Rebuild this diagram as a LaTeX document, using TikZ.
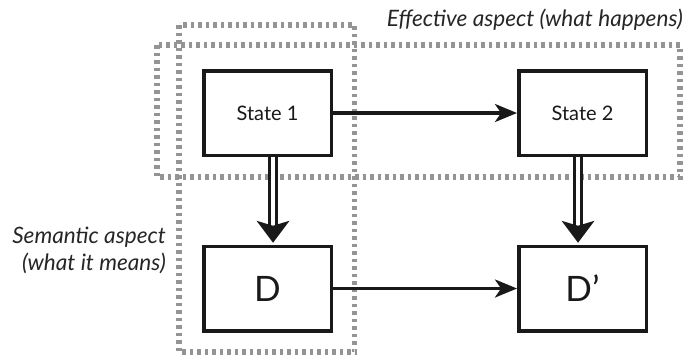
\documentclass[tikz,border=0pt]{standalone}
\usepackage{fontspec}
\setmainfont{Lato}
\usetikzlibrary{arrows.meta}
\tikzset{
  box/.style={draw=black!90, line width=3.5pt, fill=white, minimum width=127.5pt, minimum height=84.5pt, inner sep=0pt},
  aspect/.style={draw=black!42, line width=5.5pt, dash pattern=on 3.5pt off 4pt},
  flow/.style={draw=black!90, line width=3.2pt, -{Stealth[length=22pt,width=18pt,inset=6pt]}},
  dbl/.style={draw=black!90, line width=3.2pt, double=white, double distance=3.5pt, shorten >=14pt},
  head/.style={fill=black!90},
  lbl/.style={font=\itshape\fontsize{22.6}{27}\selectfont, text=black!85, inner sep=0pt},
  slbl/.style={font=\fontsize{20}{22}\selectfont, text=black!90},
  dlbl/.style={font=\fontsize{35}{37}\selectfont, text=black!90}
}
\begin{document}
\begin{tikzpicture}[x=1pt,y=-1pt]
\useasboundingbox (0,0) rectangle (690,356);
% aspect frames
\draw[aspect] (157,45) rectangle (680,177);
\draw[aspect] (179,25) rectangle (354.5,352);
% labels
\node[lbl, anchor=east] (eff) at (683,20) {Effective aspect (what happens)};
\node[lbl, anchor=east, align=right] (sem) at (166,250) {Semantic aspect\\(what it means)};
% boxes
\node[box, slbl] (s1) at (267.5,113) {State 1};
\node[box, slbl] (s2) at (582.5,113) {State 2};
\node[box, dlbl] (d) at (267.5,288.5) {D};
\node[box, dlbl] (dp) at (582.5,288.5) {D’};
% horizontal arrows
\draw[flow] (s1) -- (s2);
\draw[flow] (d) -- (dp);
% double arrows
\draw[dbl] ([xshift=5.5pt]s1.south) -- ([xshift=5.5pt,yshift=1.75pt]d.north);
\fill[head] ([xshift=5.5pt,yshift=1.75pt]d.north) -- ++(-16.5,-22) -- ++(16.5,5) -- ++(16.5,-5) -- cycle;
\draw[dbl] ([xshift=-4.5pt]s2.south) -- ([xshift=-4.5pt,yshift=1.75pt]dp.north);
\fill[head] ([xshift=-4.5pt,yshift=1.75pt]dp.north) -- ++(-16.5,-22) -- ++(16.5,5) -- ++(16.5,-5) -- cycle;
\end{tikzpicture}
\end{document}
